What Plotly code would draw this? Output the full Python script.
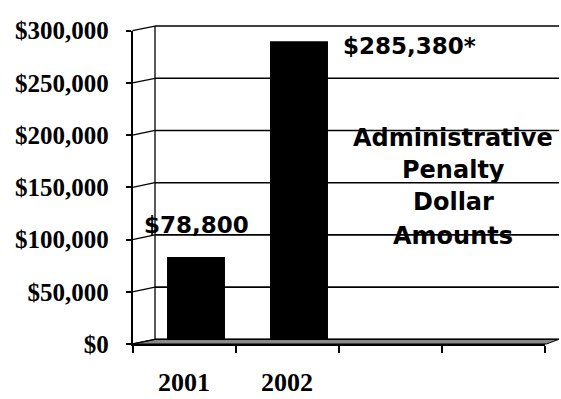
import plotly.graph_objects as go

# Chart data
years = ["2001", "2002"]
penalties = [78800, 285380]
value_suffix = ["", "*"]
y_tickvals = [0, 50000, 100000, 150000, 200000, 250000, 300000]
y_ticktext = ["$0", "$50,000", "$100,000", "$150,000", "$200,000", "$250,000", "$300,000"]
caption_lines = ["Administrative", "Penalty", "Dollar", "Amounts"]

W, H = 561, 399
Y_MAX = 300000
N_SLOTS = 4


def px(x):
    return x / W


def py(y):
    return 1 - y / H


# pixel geometry of the pseudo-3D box
FRONT_LEFT, FRONT_RIGHT = 132.5, 544.5
FRONT_BOTTOM, FRONT_TOP = 355, 19
BACK_LEFT, BACK_RIGHT = 155, 559
BACK_BOTTOM, BACK_TOP = 350, 14
BAR_LEFT, BAR_RIGHT = 144.5, 556.5


def front_y(v):
    return FRONT_BOTTOM - v / Y_MAX * (FRONT_BOTTOM - FRONT_TOP)


def back_y(v):
    return BACK_BOTTOM - v / Y_MAX * (BACK_BOTTOM - BACK_TOP)


fig = go.Figure()

fig.add_trace(go.Bar(
    x=years, y=penalties, xaxis="x", yaxis="y",
    marker=dict(color="black", line=dict(width=0)),
    hoverinfo="skip",
))

# invisible trace that carries the front axes
fig.add_trace(go.Scatter(
    x=[0, 1], y=[0, 0], xaxis="x2", yaxis="y2",
    mode="markers", marker=dict(opacity=0), hoverinfo="skip", showlegend=False,
))

shapes = []
# floor
shapes.append(dict(
    type="path", xref="paper", yref="paper", layer="below",
    path=(f"M {px(FRONT_LEFT)} {py(FRONT_BOTTOM)} L {px(FRONT_RIGHT + 2)} {py(FRONT_BOTTOM)} "
          f"L {px(BACK_RIGHT)} {py(BACK_BOTTOM)} L {px(BACK_LEFT)} {py(BACK_BOTTOM)} Z"),
    fillcolor="#8a8a8a", line=dict(color="black", width=1),
))
# back wall grid lines and the side-wall connectors
for v in y_tickvals:
    shapes.append(dict(
        type="line", xref="paper", yref="paper", layer="below",
        x0=px(BACK_LEFT), x1=px(BACK_RIGHT), y0=py(back_y(v)), y1=py(back_y(v)),
        line=dict(color="black", width=1.6),
    ))
    shapes.append(dict(
        type="line", xref="paper", yref="paper", layer="below",
        x0=px(FRONT_LEFT), x1=px(BACK_LEFT), y0=py(front_y(v)), y1=py(back_y(v)),
        line=dict(color="black", width=1.3),
    ))
# back wall left edge
shapes.append(dict(
    type="line", xref="paper", yref="paper", layer="below",
    x0=px(BACK_LEFT), x1=px(BACK_LEFT), y0=py(BACK_BOTTOM), y1=py(BACK_TOP),
    line=dict(color="black", width=1.3),
))

annotations = []
# value labels
label_pos = [
    dict(xanchor="center", yanchor="middle", xshift=0, yshift=32),
    dict(xanchor="left", yanchor="middle", xshift=42, yshift=-5),
]
for i, (val, suf, pos) in enumerate(zip(penalties, value_suffix, label_pos)):
    annotations.append(dict(
        x=i, y=val, xref="x", yref="y", text=f"${val:,}{suf}", showarrow=False,
        font=dict(family="DejaVu Sans", size=23, color="black", weight=700),
        **pos,
    ))
# caption block
caption_y = [134, 168, 203, 239]
for line, yc in zip(caption_lines, caption_y):
    annotations.append(dict(
        x=px(453), y=py(yc), xref="paper", yref="paper", text=line, showarrow=False,
        xanchor="center", yanchor="middle",
        font=dict(family="DejaVu Sans", size=24, color="black", weight=700),
    ))

hidden = dict(showticklabels=False, ticks="", showline=False, showgrid=False, zeroline=False)

fig.update_layout(
    width=W, height=H,
    margin=dict(l=0, r=0, t=0, b=0),
    paper_bgcolor="white", plot_bgcolor="rgba(0,0,0,0)",
    showlegend=False, bargap=0.437,
    xaxis=dict(
        domain=[px(BAR_LEFT), px(BAR_RIGHT)], anchor="y", type="category",
        range=[-0.5, N_SLOTS - 0.5], **hidden,
    ),
    yaxis=dict(
        domain=[py(BACK_BOTTOM), py(BACK_TOP)], anchor="x",
        range=[0, Y_MAX], **hidden,
    ),
    xaxis2=dict(
        domain=[px(FRONT_LEFT), px(FRONT_RIGHT)], anchor="y2",
        range=[-0.5, N_SLOTS - 0.5], tickmode="array",
        tickvals=list(range(len(years))), ticktext=years,
        ticks="", showgrid=False, zeroline=False,
        showline=True, linecolor="black", linewidth=2,
        minor=dict(tick0=-0.5, dtick=1, ticks="outside", ticklen=7,
                   tickwidth=1.5, tickcolor="black", showgrid=False),
        tickfont=dict(family="Liberation Serif", size=26, color="black", weight="bold"),
        ticklabelstandoff=14,
    ),
    yaxis2=dict(
        domain=[py(FRONT_BOTTOM), py(FRONT_TOP)], anchor="x2",
        range=[0, Y_MAX], tickmode="array", tickvals=y_tickvals, ticktext=y_ticktext,
        ticks="outside", ticklen=5, tickwidth=1.5, tickcolor="black",
        showgrid=False, zeroline=False,
        showline=True, linecolor="black", linewidth=1.5,
        tickfont=dict(family="Liberation Serif", size=25, color="black", weight="bold"),
        ticklabelstandoff=12,
    ),
    shapes=shapes,
    annotations=annotations,
)

fig.write_html("out.html")
